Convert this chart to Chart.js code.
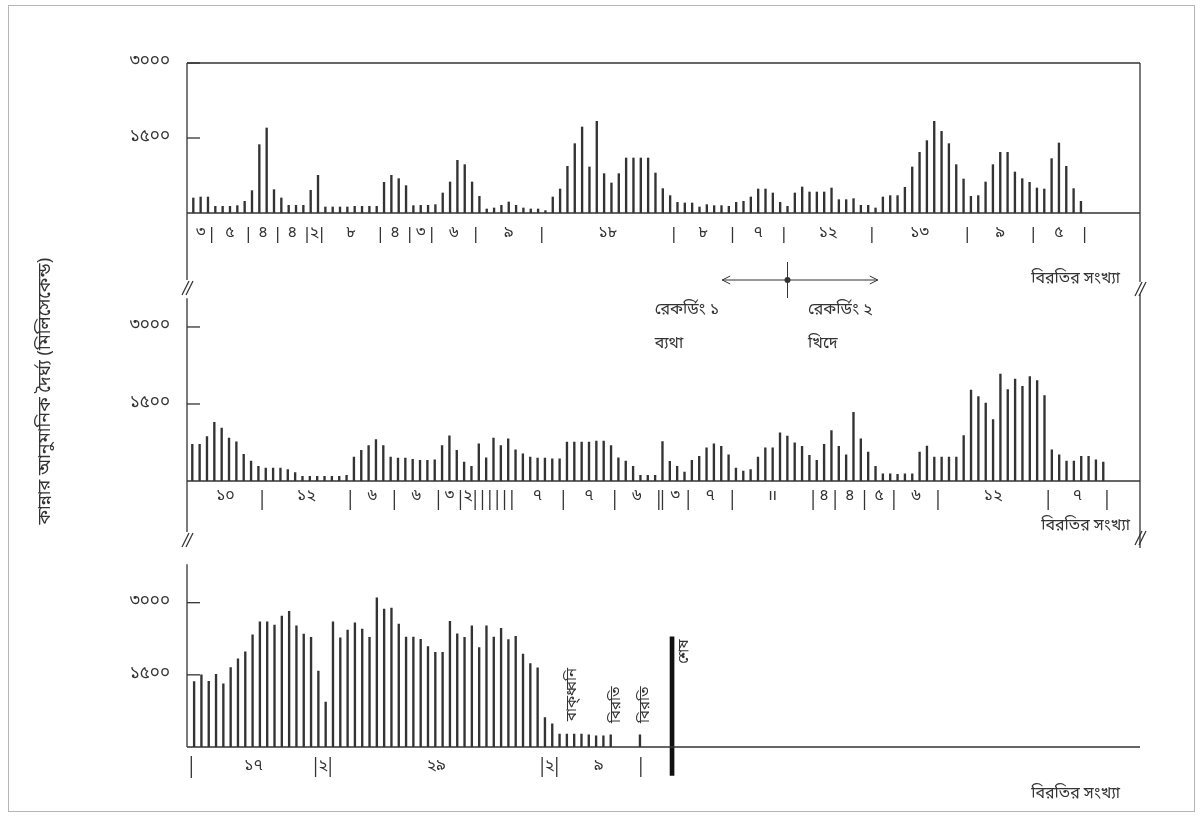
<!DOCTYPE html>
<html>
<head>
<meta charset="utf-8">
<script src="https://cdn.jsdelivr.net/npm/chart.js@4.4.0/dist/chart.umd.min.js"></script>
<style>
  html, body { margin: 0; padding: 0; background: #fff; }
  body { width: 1203px; height: 817px; position: relative; overflow: hidden; }
  .frame { position: absolute; left: 8px; top: 5px; width: 1187px; height: 807px; border: 1px solid #b5b5b5; box-sizing: border-box; }
  canvas { position: absolute; left: 0; }
</style>
</head>
<body>
<div class="frame"></div>
<canvas id="p1" width="1203" height="360" style="top:0px;width:1203px;height:360px"></canvas>
<canvas id="p2" width="1203" height="375" style="top:180px;width:1203px;height:375px"></canvas>
<canvas id="p3" width="1203" height="272" style="top:545px;width:1203px;height:272px"></canvas>
<script>
// crying length per pause (ms), one value per bar
const panel1Values = [
  300, 320, 320, 133, 133, 133, 147, 233, 447, 1367,
  1700, 467, 300, 153, 153, 153, 453, 753, 120, 120,
  120, 120, 133, 133, 133, 133, 613, 753, 687, 547,
  147, 153, 153, 167, 400, 620, 1053, 967, 620, 333,
  80, 100, 153, 220, 153, 100, 80, 80, 47, 320,
  480, 933, 1387, 1720, 920, 1833, 787, 600, 787, 1100,
  1100, 1100, 1100, 800, 487, 347,
  213, 200, 200, 120, 167, 147, 147, 133,
  213, 233, 320, 480, 480, 400, 213,
  133, 400, 520, 420, 420, 420, 500, 267, 267, 287, 153, 153,
  100, 320, 347, 347, 513, 920, 1213, 1447, 1833, 1633, 1387, 967, 680,
  333, 347, 620, 967, 1213, 1213, 820, 687, 613,
  500, 480, 1087, 1400, 933, 487, 233
];
const panel1GroupLabels = ['৩', '৫', '৪', '৪', '২', '৮', '৪', '৩', '৬', '৯', '১৮', '৮', '৭', '১২', '১৩', '৯', '৫'];
const panel1GroupSizes = [3, 5, 4, 4, 2, 8, 4, 3, 6, 9, 18, 8, 7, 12, 13, 9, 7];

const panel2Values = [
  712, 712, 867, 1145, 1029, 835, 763, 518, 388, 285,
  252, 252, 252, 220, 162, 91, 91, 91, 91, 91, 91, 110,
  466, 595, 692, 809, 692, 466, 446, 446, 420, 401, 401,
  414, 692, 880, 595, 369, 285, 725, 453, 835, 692, 822, 608, 531, 466,
  446, 446, 433, 433, 757, 757, 757, 757, 776, 776, 692, 453, 388, 285,
  110, 110, 110, 770, 382, 285, 175, 401, 479, 647, 725, 673, 511,
  252, 194, 220, 466, 647, 647, 938, 873, 744, 673, 498, 401, 712, 983,
  673, 511, 1339, 822, 563, 285, 142, 142, 129, 142, 142,
  563, 679, 466, 466, 466, 466, 886, 1773, 1643, 1520, 1197, 2083,
  1779, 1986, 1844, 2032, 1954, 1663, 608, 511, 388, 388, 479, 479, 414, 369
];
const panel2GroupLabels = ['১০', '১২', '৬', '৬', '৩', '২', '', '', '', '', '', '৭', '৭', '৬', '', '৩', '৭', 'ıı', '৪', '৪', '৫', '৬', '১২', '৭'];
const panel2GroupSizes = [10, 12, 6, 6, 3, 2, 1, 1, 1, 1, 1, 7, 7, 6, 0.5, 3.5, 6, 11, 3, 4, 4, 6, 15, 8];

const panel3Values = [
  1360, 1500, 1367, 1513, 1313, 1653, 1833, 1980, 2333, 2600,
  2600, 2533, 2720, 2820, 2520, 2347, 2280,
  1580, 933,
  2600, 2267, 2433, 2580, 2453, 2280, 3100, 2867, 2887, 2553,
  2287, 2287, 2240, 2087, 1967, 1967, 2613, 2353, 2280, 2520,
  2067, 2520, 2287, 2467, 2233, 2300, 1933, 1733, 1647,
  613, 480,
  267, 267, 267, 267, 253, 233, 233, 253,
  null, null, null, 253
];
const panel3GroupLabels = ['১৭', '২', '২৯', '২', '৯'];
const panel3GroupSizes = [17, 2, 29, 2, 11.5];
const panel3EndMark = { x: 65, y: [-590, 2290] };
const panel3Notes = [
  { text: 'বাক্‌ধ্বনি', x: 51.7, y: 540 },
  { text: 'বিরতি', x: 57.7, y: 500 },
  { text: 'বিরতি', x: 61.7, y: 500 },
  { text: 'শেষ', x: 67.1, y: 1730 }
];

const yTicks = [1500, 3000];
const yTitle = 'কান্নার আনুমানিক দৈর্ঘ্য (মিলিসেকেন্ড)';
const xCaption = 'বিরতির সংখ্যা';

const INK = '#333';
const FONT = '"Noto Sans Bengali","Noto Serif Bengali","Lohit Bengali","FreeSerif","DejaVu Sans",sans-serif';
Chart.defaults.font.family = FONT;

const BN = ['০', '১', '২', '৩', '৪', '৫', '৬', '৭', '৮', '৯'];
const bn = n => String(n).replace(/\d/g, d => BN[d]);

function line(ctx, x1, y1, x2, y2) {
  ctx.beginPath();
  ctx.moveTo(x1, y1);
  ctx.lineTo(x2, y2);
  ctx.stroke();
}

function breakMark(ctx, x, y) {
  line(ctx, x - 5, y + 7, x + 2, y - 7);
  line(ctx, x - 1, y + 7, x + 6, y - 7);
}

function decoPlugin(opt) {
  return {
    id: 'panelDeco',
    afterDatasetsDraw(chart) {
      const { ctx, chartArea: a, scales: { x, y } } = chart;
      ctx.save();
      ctx.strokeStyle = INK;
      ctx.fillStyle = INK;
      ctx.lineWidth = 1.3;

      // frame
      line(ctx, a.left, a.top + opt.leftAxis[0], a.left, a.bottom + opt.leftAxis[1]);
      if (opt.rightAxis) line(ctx, a.right, a.top + opt.rightAxis[0], a.right, a.bottom + opt.rightAxis[1]);
      if (opt.topBorder) line(ctx, a.left, a.top, a.right, a.top);
      line(ctx, a.left, a.bottom, a.right, a.bottom);

      // inward tick marks
      y.ticks.forEach(t => {
        if (t.value > 0) {
          const py = y.getPixelForValue(t.value);
          line(ctx, a.left, py, a.left + 13, py);
        }
      });

      // break marks
      (opt.breaks || []).forEach(b => breakMark(ctx, b.right ? a.right : a.left, a.bottom + b.dy));

      // group separators and counts
      const rowY = a.bottom + opt.rowDy;
      const sepY = a.bottom + opt.sepDy;
      ctx.font = '16px ' + FONT;
      ctx.textAlign = 'center';
      ctx.textBaseline = 'middle';
      let pos = -0.5;
      if (opt.leadSep) line(ctx, x.getPixelForValue(pos), sepY - 11, x.getPixelForValue(pos), sepY + 11);
      opt.groupSizes.forEach((size, i) => {
        const start = pos;
        pos += size;
        const label = opt.groupLabels[i];
        if (label) ctx.fillText(label, x.getPixelForValue((start + pos) / 2), rowY);
        const px = x.getPixelForValue(pos);
        line(ctx, px, sepY - opt.sepHalf, px, sepY + opt.sepHalf);
      });

      // axis caption
      ctx.textAlign = 'right';
      ctx.font = '16px ' + FONT;
      ctx.fillText(xCaption, opt.captionRight, a.bottom + opt.captionDy);

      // rotated notes
      (opt.notes || []).forEach(n => {
        ctx.save();
        ctx.translate(x.getPixelForValue(n.x), y.getPixelForValue(n.y));
        ctx.rotate(-Math.PI / 2);
        ctx.textAlign = 'left';
        ctx.font = '15px ' + FONT;
        ctx.fillText(n.text, 0, 0);
        ctx.restore();
      });

      // recording switch arrow
      if (opt.arrow) {
        const ar = opt.arrow;
        const ay = a.bottom + ar.dy;
        const x1 = x.getPixelForValue(ar.from), x2 = x.getPixelForValue(ar.to), xc = x.getPixelForValue(ar.at);
        ctx.lineWidth = 1;
        line(ctx, x1, ay, x2, ay);
        line(ctx, x1, ay, x1 + 8, ay - 4); line(ctx, x1, ay, x1 + 8, ay + 4);
        line(ctx, x2, ay, x2 - 8, ay - 4); line(ctx, x2, ay, x2 - 8, ay + 4);
        line(ctx, xc, ay - 18, xc, ay + 18);
        ctx.beginPath(); ctx.arc(xc, ay, 3, 0, Math.PI * 2); ctx.fill();
        ctx.textAlign = 'left';
        ctx.font = '16px ' + FONT;
        ar.texts.forEach(t => ctx.fillText(t.text, x.getPixelForValue(t.x), a.bottom + t.dy));
      }
      ctx.restore();
    }
  };
}

function makePanel(id, values, opt) {
  const points = values.map((v, i) => ({ x: i, y: v })).filter(p => p.y !== null);
  const datasets = [{ data: points, backgroundColor: INK, barThickness: 1.7 }];
  if (opt.endMark) datasets.push({ data: [opt.endMark], backgroundColor: '#111', barThickness: 4, clip: false });
  return new Chart(document.getElementById(id), {
    type: 'bar',
    data: { datasets },
    options: {
      responsive: false,
      animation: false,
      layout: { padding: { left: 0, right: 63, top: opt.padTop, bottom: opt.padBottom } },
      plugins: { legend: { display: false }, tooltip: { enabled: false } },
      scales: {
        x: { type: 'linear', display: false, offset: false, min: opt.xMin, max: opt.xMax },
        y: {
          min: 0,
          max: opt.yMax,
          afterBuildTicks: s => { s.ticks = yTicks.map(v => ({ value: v })); },
          afterFit: s => { s.width = 187; },
          grid: { display: false },
          border: { display: false },
          ticks: {
            autoSkip: false,
            padding: 9,
            color: INK,
            font: { size: 17 },
            callback: v => bn(v)
          },
          title: opt.showTitle
            ? { display: true, text: yTitle, color: INK, font: { size: 18 }, padding: { top: 36 } }
            : { display: false }
        }
      }
    },
    plugins: [decoPlugin(opt)]
  });
}

makePanel('p1', panel1Values, {
  xMin: -0.86, xMax: 129.05, yMax: 3000, padTop: 63, padBottom: 147,
  groupLabels: panel1GroupLabels, groupSizes: panel1GroupSizes,
  topBorder: true, leftAxis: [0, 67], rightAxis: [0, 69],
  breaks: [{ dy: 75 }, { dy: 76, right: true }],
  rowDy: 21, sepDy: 22, sepHalf: 8,
  captionRight: 1120, captionDy: 67,
  arrow: {
    from: 72.1, to: 93.3, at: 81, dy: 67,
    texts: [
      { text: 'রেকর্ডিং ১', x: 62.9, dy: 98 },
      { text: 'ব্যথা', x: 62.9, dy: 132 },
      { text: 'রেকর্ডিং ২', x: 83.8, dy: 98 },
      { text: 'খিদে', x: 83.8, dy: 132 }
    ]
  }
});

makePanel('p2', panel2Values, {
  xMin: -0.72, xMax: 129.0, yMax: 3500, padTop: 121.3, padBottom: 74,
  groupLabels: panel2GroupLabels, groupSizes: panel2GroupSizes,
  leftAxis: [-3, 51], rightAxis: [-7, 67],
  breaks: [{ dy: 59 }, { dy: 57, right: true }],
  rowDy: 16, sepDy: 19, sepHalf: 10,
  captionRight: 1130, captionDy: 46,
  showTitle: true
});

makePanel('p3', panel3Values, {
  xMin: -1.09, xMax: 129.3, yMax: 3800, padTop: 10.7, padBottom: 70,
  groupLabels: panel3GroupLabels, groupSizes: panel3GroupSizes,
  leftAxis: [0, 0], leadSep: true,
  rowDy: 20, sepDy: 20, sepHalf: 10,
  captionRight: 1120, captionDy: 48,
  endMark: panel3EndMark, notes: panel3Notes
});
</script>
</body>
</html>
